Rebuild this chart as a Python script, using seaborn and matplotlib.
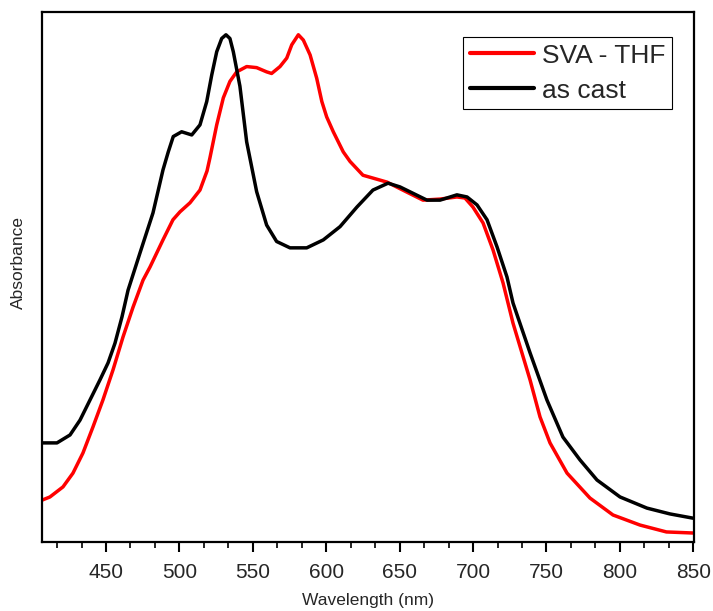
import matplotlib
matplotlib.use("Agg")
import matplotlib.pyplot as plt
from matplotlib.ticker import MultipleLocator, AutoMinorLocator, NullLocator
import seaborn as sns
import pandas as pd

# as cast (black)
wl_cast = [406.4, 416.6, 425.5, 432.3, 439.1, 445.9, 451.4, 456.1, 460.9, 465.0,
           473.1, 482.0, 488.8, 492.4, 495.8, 501.5, 508.4, 514.0, 518.6, 522.0,
           525.4, 528.8, 531.7, 534.4, 536.7, 541.2, 545.8, 552.6, 559.4, 566.2,
           575.3, 586.7, 598.0, 609.4, 620.9, 631.8, 642.1, 650.2, 668.6, 677.5,
           689.0, 695.9, 702.7, 709.5, 716.3, 723.1, 727.2, 738.8, 750.3, 761.2,
           772.8, 784.4, 800.1, 818.4, 834.1, 849.8]
abs_cast = [0.187, 0.187, 0.202, 0.230, 0.268, 0.306, 0.338, 0.375, 0.425, 0.475,
            0.545, 0.621, 0.702, 0.736, 0.765, 0.774, 0.768, 0.787, 0.831, 0.881,
            0.925, 0.950, 0.957, 0.950, 0.925, 0.860, 0.755, 0.661, 0.598, 0.567,
            0.555, 0.555, 0.570, 0.595, 0.632, 0.664, 0.677, 0.670, 0.645, 0.645,
            0.655, 0.651, 0.636, 0.608, 0.557, 0.500, 0.451, 0.357, 0.268, 0.198,
            0.155, 0.117, 0.085, 0.064, 0.053, 0.045]

# SVA - THF (red)
wl_sva = [406.4, 411.8, 420.7, 427.5, 434.3, 441.1, 447.9, 454.8, 461.6, 468.4,
          475.2, 480.0, 488.8, 495.6, 500.4, 507.2, 514.0, 518.8, 520.8, 525.4,
          529.9, 534.4, 539.0, 545.8, 552.6, 559.4, 562.8, 568.5, 573.1, 576.5,
          581.0, 584.4, 589.0, 593.5, 597.0, 600.3, 604.8, 611.6, 616.2, 625.0,
          641.4, 655.0, 665.9, 677.5, 689.0, 694.5, 699.9, 706.8, 713.6, 720.4,
          727.2, 738.8, 745.6, 752.4, 764.0, 779.6, 795.3, 813.7, 831.7, 849.8]
abs_sva = [0.079, 0.085, 0.104, 0.130, 0.168, 0.217, 0.268, 0.325, 0.387, 0.443,
           0.494, 0.519, 0.570, 0.608, 0.623, 0.640, 0.664, 0.700, 0.725, 0.787,
           0.838, 0.869, 0.887, 0.897, 0.895, 0.887, 0.884, 0.897, 0.913, 0.938,
           0.957, 0.947, 0.919, 0.875, 0.831, 0.802, 0.774, 0.736, 0.718, 0.692,
           0.679, 0.660, 0.645, 0.647, 0.651, 0.649, 0.632, 0.602, 0.551, 0.489,
           0.413, 0.306, 0.236, 0.187, 0.130, 0.083, 0.051, 0.032, 0.019, 0.017]

labels = ["SVA - THF", "as cast"]
colors = ["#ff0000", "#000000"]

df = pd.concat([
    pd.DataFrame({"Wavelength": wl_sva, "Absorbance": abs_sva, "sample": labels[0]}),
    pd.DataFrame({"Wavelength": wl_cast, "Absorbance": abs_cast, "sample": labels[1]}),
])

sns.set_theme(style="ticks")
plt.rcParams["font.family"] = ["Liberation Sans", "DejaVu Sans"]

fig = plt.figure(figsize=(7.13, 6.11), dpi=100)
ax = fig.add_axes([0.0589, 0.1129, 0.9145, 0.8675])

sns.lineplot(data=df, x="Wavelength", y="Absorbance", hue="sample",
             hue_order=labels, palette=colors, linewidth=2.5, ax=ax)
for ln in ax.get_lines():
    ln.set_solid_joinstyle("round")
    ln.set_solid_capstyle("round")

ax.set_xlim(406.4, 850.5)
ax.set_ylim(0, 1)
ax.xaxis.set_major_locator(MultipleLocator(50))
ax.xaxis.set_minor_locator(AutoMinorLocator(3))
ax.yaxis.set_major_locator(NullLocator())
ax.yaxis.set_minor_locator(NullLocator())
ax.tick_params(axis="x", which="major", direction="out", length=7, width=1.5,
               labelsize=15, color="black", pad=8)
ax.tick_params(axis="x", which="minor", direction="out", length=4, width=1.2, color="black")
for s in ax.spines.values():
    s.set_visible(True)
    s.set_color("black")
    s.set_linewidth(1.6)

ax.set_xlabel("Wavelength (nm)", fontsize=12.5, labelpad=8)
ax.set_ylabel("Absorbance", fontsize=12.5)
ax.yaxis.set_label_coords(-0.024, 0.528)

leg = ax.legend(loc="upper right", bbox_to_anchor=(0.9663, 0.9528), borderaxespad=0,
                fontsize=19, frameon=True, fancybox=False, framealpha=1,
                handlelength=2.45, handletextpad=0.3, borderpad=0.25, labelspacing=0.42)
leg.get_frame().set_edgecolor("black")
leg.get_frame().set_linewidth(0.8)
for h in leg.get_lines():
    h.set_linewidth(3)

fig.savefig("out.png", dpi=100)
